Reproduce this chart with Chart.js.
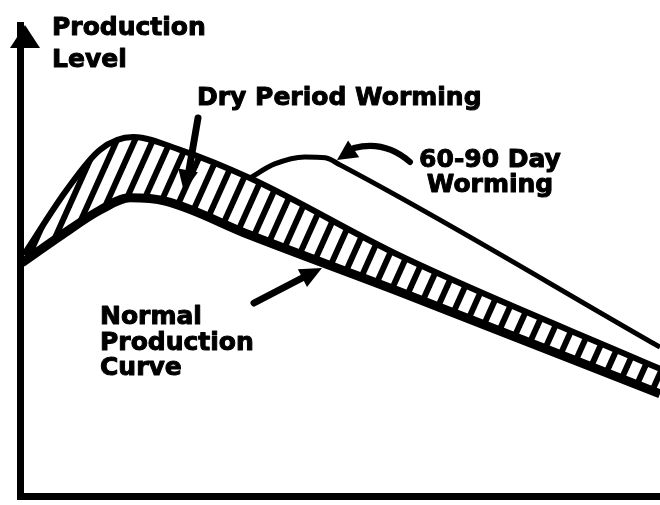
<!DOCTYPE html>
<html>
<head>
<meta charset="utf-8">
<title>Production Level</title>
<script src="https://cdn.jsdelivr.net/npm/chart.js@4.4.1/dist/chart.umd.min.js"></script>
<style>
  html, body { margin: 0; padding: 0; background: #fff; }
  #wrap { width: 660px; height: 505px; position: relative; }
</style>
</head>
<body>
<div id="wrap"><canvas id="chart"></canvas></div>
<script>
// time through lactation (0-100) vs production level (0-100)
const normalX = [0.3, 6.3, 12.5, 17.2, 22.7, 35.9, 59.4, 100];
const normalY = [49.5, 55.2, 60.7, 63.3, 62.6, 55.4, 43.3, 21.7];
const dryX = [0.6, 7.3, 12.5, 17.7, 25.0, 35.9, 59.4, 100];
const dryY = [51.2, 65.0, 73.5, 76.2, 73.5, 67.5, 51.0, 27.0];
const wormX = [35.9, 39.8, 44.5, 47.7, 50.0, 100];
const wormY = [67.5, 70.5, 72.0, 71.8, 70.3, 31.6];

const axisLabel = ["Production", "Level"];
const dryLabel = ["Dry Period Worming"];
const wormLabel = ["60-90 Day", "Worming"];
const normalLabel = ["Normal", "Production", "Curve"];

const toPoints = (xs, ys) => xs.map((v, i) => ({ x: v, y: ys[i] }));

// --- hatch pattern for the band between the two curves ---
function hatch() {
  const c = document.createElement("canvas");
  c.width = 18;
  c.height = 40;
  const g = c.getContext("2d");
  g.strokeStyle = "#000";
  g.lineWidth = 6;
  for (const dx of [-36, -18, 0, 18, 36]) {
    g.beginPath();
    g.moveTo(dx - 9, 60);
    g.lineTo(dx + 27, -20);
    g.stroke();
  }
  return g.createPattern(c, "repeat");
}

function arrowHead(ctx, tipX, tipY, fromX, fromY, len, half) {
  const a = Math.atan2(tipY - fromY, tipX - fromX);
  const bx = tipX - Math.cos(a) * len;
  const by = tipY - Math.sin(a) * len;
  ctx.beginPath();
  ctx.moveTo(tipX, tipY);
  ctx.lineTo(bx + Math.sin(a) * half, by - Math.cos(a) * half);
  ctx.lineTo(bx - Math.sin(a) * half, by + Math.cos(a) * half);
  ctx.closePath();
  ctx.fill();
}

// heavy type: fill plus a thin stroke
function textLines(ctx, lines, x, y, step) {
  lines.forEach((t, i) => {
    ctx.fillText(t, x, y + i * step);
    ctx.strokeText(t, x, y + i * step);
  });
}

// --- labels, arrows and the y-axis arrowhead ---
const notes = {
  id: "notes",
  afterDraw(chart) {
    const { ctx, chartArea } = chart;
    ctx.save();
    ctx.fillStyle = "#000";
    ctx.strokeStyle = "#000";
    ctx.lineCap = "round";
    ctx.lineJoin = "round";

    // y axis arrow
    const ax = chartArea.left + 5;
    ctx.beginPath();
    ctx.moveTo(ax, chartArea.top);
    ctx.lineTo(ax + 15, chartArea.top + 23);
    ctx.lineTo(ax - 15, chartArea.top + 23);
    ctx.closePath();
    ctx.fill();

    ctx.font = "bold 25px 'DejaVu Sans', sans-serif";
    ctx.lineWidth = 1;
    ctx.textBaseline = "alphabetic";
    ctx.textAlign = "left";
    textLines(ctx, axisLabel, 52, 35, 32);
    textLines(ctx, dryLabel, 197, 105, 26);
    textLines(ctx, normalLabel, 100, 324, 25.5);
    ctx.textAlign = "center";
    textLines(ctx, wormLabel, 490, 167, 25);

    // dry period arrow
    ctx.lineWidth = 7;
    ctx.beginPath();
    ctx.moveTo(198, 118);
    ctx.lineTo(188, 176);
    ctx.stroke();
    arrowHead(ctx, 184, 192, 198, 118, 22, 10);

    // normal curve arrow
    ctx.beginPath();
    ctx.moveTo(254, 303);
    ctx.lineTo(306, 276);
    ctx.stroke();
    arrowHead(ctx, 322, 268, 254, 303, 22, 10);

    // 60-90 day arrow
    ctx.lineWidth = 6;
    ctx.beginPath();
    ctx.moveTo(410, 162);
    ctx.quadraticCurveTo(385, 140, 354, 148);
    ctx.stroke();
    arrowHead(ctx, 337, 160, 358, 146, 20, 10);

    ctx.restore();
  }
};

const ctx = document.getElementById("chart");
new Chart(ctx, {
  type: "line",
  data: {
    datasets: [
      {
        label: "Dry Period Worming",
        data: toPoints(dryX, dryY),
        borderColor: "#000",
        borderWidth: 6,
        backgroundColor: hatch(),
        fill: "+1",
        pointRadius: 0,
        cubicInterpolationMode: "monotone"
      },
      {
        label: "Normal Production Curve",
        data: toPoints(normalX, normalY),
        borderColor: "#000",
        borderWidth: 9,
        fill: false,
        pointRadius: 0,
        cubicInterpolationMode: "monotone"
      },
      {
        label: "60-90 Day Worming",
        data: toPoints(wormX, wormY),
        borderColor: "#000",
        borderWidth: 5,
        fill: false,
        pointRadius: 0,
        cubicInterpolationMode: "monotone"
      }
    ]
  },
  options: {
    responsive: true,
    maintainAspectRatio: false,
    animation: false,
    layout: { padding: { left: 20, right: 0, top: 25, bottom: 9 } },
    scales: {
      x: {
        type: "linear",
        min: 0,
        max: 100,
        grid: { display: false, drawTicks: false, tickLength: 0 },
        ticks: { display: false, padding: 0 },
        border: { display: true, color: "#000", width: 7 }
      },
      y: {
        type: "linear",
        min: 0,
        max: 100,
        grid: { display: false, drawTicks: false, tickLength: 0 },
        ticks: { display: false, padding: 0 },
        border: { display: true, color: "#000", width: 7 }
      }
    },
    plugins: {
      legend: { display: false },
      tooltip: { enabled: false }
    }
  },
  plugins: [notes]
});
</script>
</body>
</html>
